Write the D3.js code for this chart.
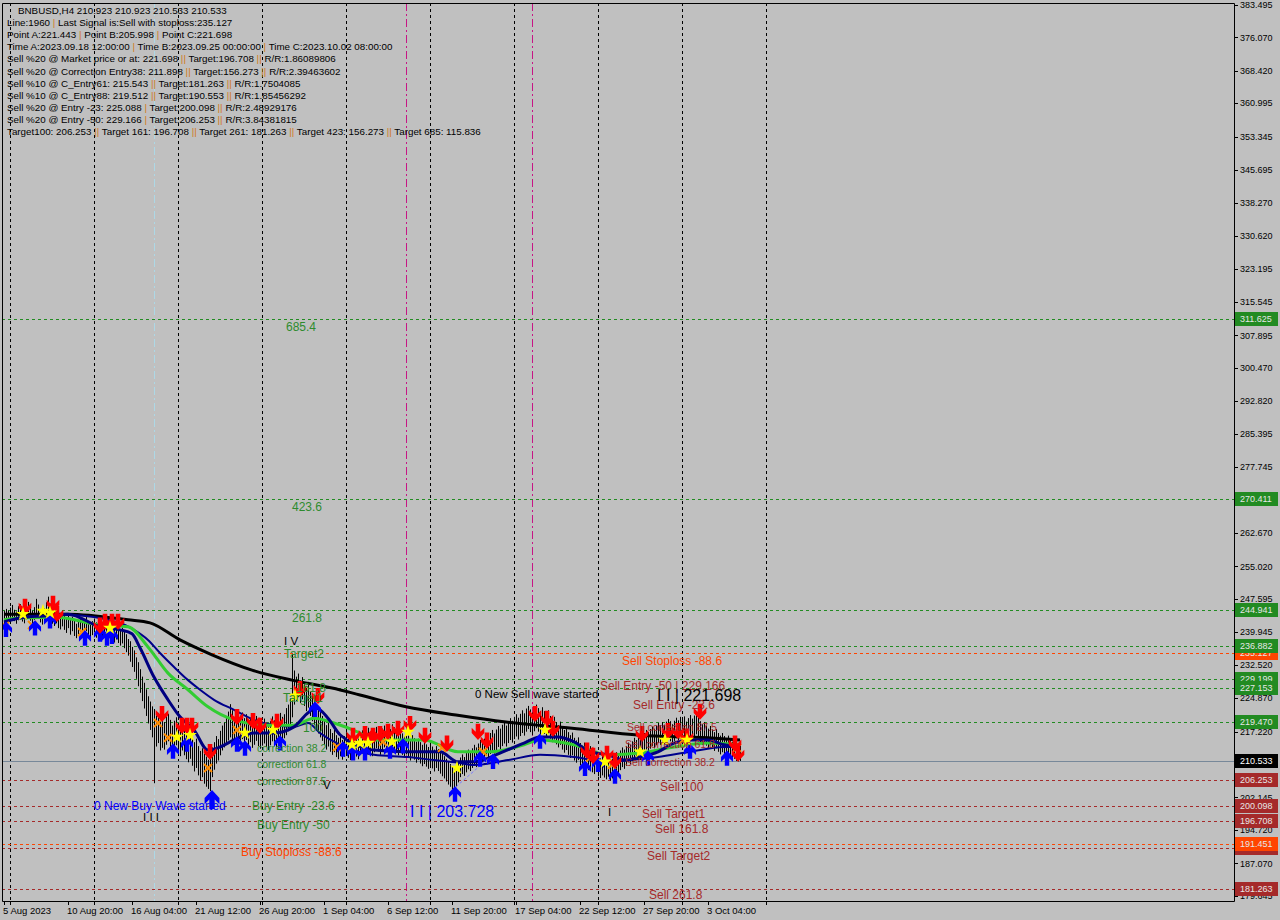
<!DOCTYPE html>
<html><head><meta charset="utf-8">
<script src="https://cdn.jsdelivr.net/npm/d3@7"></script>
<style>body{margin:0;background:#c0c0c0;} svg{display:block;font-family:"Liberation Sans",Arial,sans-serif}</style>
</head><body><svg id="c" width="1280" height="920"></svg>
<script>
// ---------- DATA ----------
const startTime = Date.UTC(2023,7,5,12,0);
const barHours = 4;
const highs = [
244.8,245.3,244.9,245.6,246.2,245.1,244.7,245.9,246.4,245.2,
244.6,245.8,246.9,245.5,244.9,245.7,247.6,246.3,245.1,244.8,
245.4,246.8,248.1,246.5,245.2,244.6,245.3,244.1,243.8,244.5,
243.9,243.2,244.0,242.8,243.5,242.6,241.9,242.7,243.3,242.1,
242.9,243.6,242.4,241.8,242.5,243.1,242.2,241.5,242.3,241.7,
242.6,241.9,241.2,242.0,241.4,240.8,241.6,240.9,240.3,241.0,
240.2,239.5,238.4,237.9,236.6,235.8,234.2,233.1,231.5,229.8,
228.4,226.9,225.3,224.1,223.0,222.4,220.9,221.5,219.8,220.6,
219.4,220.8,221.3,219.9,218.6,219.7,220.5,218.9,217.8,219.2,
218.4,217.1,216.6,217.5,215.9,214.8,215.6,213.9,212.8,213.4,
212.1,211.5,210.8,211.9,213.6,214.8,216.2,215.5,217.4,218.6,
219.3,220.7,221.8,223.5,222.1,220.6,221.4,219.8,220.9,221.6,
220.3,221.2,219.6,220.4,218.9,219.7,220.8,219.3,218.6,219.5,
220.2,219.1,218.4,219.6,220.7,219.8,218.9,220.3,221.5,220.6,
221.2,222.6,223.4,224.8,235.0,231.2,229.8,230.5,228.9,229.7,
228.4,227.2,228.6,226.3,225.1,224.4,223.2,222.5,221.7,220.8,
219.9,218.7,219.3,217.8,216.9,217.6,216.4,215.8,216.5,215.3,
216.2,217.1,216.0,215.4,216.6,217.3,216.1,215.6,216.8,217.5,
216.4,217.2,218.1,217.0,216.3,217.4,218.3,217.6,216.8,217.9,
218.6,217.7,216.9,217.8,218.9,218.2,217.3,216.6,217.5,216.8,
216.2,217.0,216.3,215.5,216.4,215.7,214.9,215.6,214.8,214.2,
214.9,214.3,213.7,214.5,213.8,213.1,213.9,213.2,212.6,212.1,
211.6,211.0,210.4,209.8,209.1,208.7,209.5,210.4,211.3,212.0,
211.4,212.3,213.1,212.6,213.4,214.2,213.6,214.5,215.3,214.7,
215.6,216.4,215.8,216.9,217.6,216.8,217.7,218.5,217.9,218.8,
219.4,218.6,219.5,220.3,219.7,220.6,221.2,220.4,221.3,222.1,
221.4,222.5,223.1,222.3,221.6,222.7,223.4,222.6,221.9,222.8,
221.9,221.2,222.1,220.8,219.9,220.6,219.4,218.7,219.5,218.2,
217.6,218.3,217.1,216.4,217.0,215.8,215.2,215.9,214.6,214.0,
214.7,213.8,213.2,213.9,212.7,212.2,212.8,211.6,211.1,211.8,
211.2,210.6,211.3,210.4,211.0,211.8,212.5,212.0,212.9,213.6,
213.1,213.9,214.7,214.2,215.0,215.8,215.3,216.1,216.8,216.2,
216.9,217.6,217.1,217.8,218.4,217.9,218.6,219.2,218.7,219.4,
218.8,219.5,220.1,219.6,218.9,219.7,220.4,219.8,220.6,219.9,
220.7,219.5,220.3,221.0,220.2,220.9,221.7,220.8,219.6,218.9,
219.4,218.6,217.9,218.5,217.7,217.1,217.8,216.9,216.3,216.9,
216.2,215.7,216.3,215.5,214.9,215.4,214.8,214.3,214.0];
const lows = [
241.6,242.3,242.8,242.1,243.0,242.5,241.9,242.7,243.3,242.4,
242.0,242.9,243.4,242.6,241.8,242.8,243.5,243.0,242.2,241.7,
242.5,243.2,243.9,242.8,241.9,241.4,242.0,240.9,240.6,241.3,
240.5,239.8,240.9,239.4,240.2,239.1,238.6,239.5,240.1,239.0,
239.6,240.2,238.9,238.5,239.3,239.9,238.7,238.2,239.0,238.4,
239.1,238.6,238.0,238.7,238.1,237.6,238.3,237.5,236.9,237.4,
236.3,235.4,234.6,233.2,232.0,230.9,229.3,227.6,226.1,224.2,
222.5,220.8,219.1,217.6,215.9,205.4,213.8,214.6,212.9,213.5,
213.1,214.2,215.0,213.6,212.4,213.3,214.1,212.8,211.6,212.9,
211.8,210.9,210.2,211.0,209.4,208.1,208.9,207.2,206.0,206.8,
205.3,204.6,204.1,203.6,206.8,208.5,209.9,210.6,211.8,212.9,
213.6,214.5,215.2,215.9,214.8,214.2,215.0,214.1,214.7,215.5,
214.6,215.3,214.0,214.8,213.5,214.2,215.1,213.9,213.3,214.0,
214.5,213.7,213.0,214.1,215.0,214.3,213.6,214.7,215.6,215.0,
215.7,216.4,217.3,218.1,220.5,223.4,224.2,225.1,223.8,224.6,
223.1,221.9,222.7,220.8,219.6,218.7,217.5,216.8,215.9,215.1,
214.2,213.1,213.8,212.6,211.9,212.5,211.4,210.9,211.6,210.8,
211.5,212.3,211.2,210.7,211.8,212.6,211.5,210.9,212.1,212.8,
211.7,212.4,213.2,212.1,211.6,212.5,213.4,212.7,211.9,213.0,
213.6,212.8,212.1,212.9,213.8,213.2,212.4,211.8,212.6,211.9,
211.3,212.0,211.4,210.6,211.5,210.8,210.1,210.7,209.9,209.3,
209.8,209.2,208.7,209.4,208.8,208.1,208.9,208.2,207.6,207.0,
206.5,205.8,205.1,204.6,204.0,203.7,204.5,205.6,206.8,207.5,
207.1,207.9,208.6,208.2,208.9,209.7,209.1,209.9,210.6,210.2,
210.9,211.7,211.2,212.1,212.8,212.2,212.9,213.7,213.1,213.9,
214.5,213.8,214.6,215.3,214.7,215.5,216.1,215.4,216.2,216.9,
216.3,217.2,217.8,217.1,216.4,217.3,218.0,217.2,216.6,217.4,
216.7,216.0,216.8,215.6,214.8,215.4,214.3,213.6,214.2,213.1,
212.4,213.0,211.9,211.2,211.8,210.6,210.1,210.7,209.5,209.0,
209.6,208.9,208.4,209.0,207.9,207.5,208.1,207.0,206.6,207.2,
206.7,206.3,206.9,206.0,206.5,207.3,208.0,207.6,208.4,209.1,
208.7,209.4,210.2,209.8,210.5,211.3,210.8,211.6,212.3,211.8,
212.4,213.1,212.6,213.3,213.9,213.4,214.1,214.6,214.2,214.8,
214.3,214.9,215.5,215.0,214.4,215.1,215.7,215.2,215.9,215.3,
215.8,214.9,215.6,216.2,215.5,216.1,216.6,215.7,214.8,214.2,
214.7,214.0,213.5,214.1,213.3,212.8,213.4,212.6,212.0,212.5,
211.8,211.3,211.9,211.1,210.6,211.0,210.5,210.4,210.5];

// moving averages read at sample bars [bar, price]
const maLong = [[0,244.1],[32,244.1],[62,242.8],[73,242.1],[88,238.2],[104,234.8],[124,231.3],[144,229.0],[164,227.2],[178,225.6],[201,222.9],[226,221.0],[251,219.4],[284,218.0],[318,216.4],[352,215.8],[368,215.3]];
const maGreen = [[0,242.8],[8,243.2],[26,243.4],[48,241.6],[62,241.2],[72,236.6],[82,230.6],[92,226.8],[102,222.9],[115,219.9],[132,218.7],[145,218.7],[155,220.3],[165,219.2],[178,216.9],[185,215.3],[210,215.3],[227,212.6],[243,212.6],[260,214.2],[268,215.3],[285,214.2],[302,211.9],[318,212.3],[335,213.7],[352,214.6],[368,214.2]];
const maFast = [[0,242.3],[8,243.2],[20,243.7],[32,244.1],[48,241.2],[58,240.5],[64,239.6],[68,236.4],[75,229.7],[82,224.5],[88,220.6],[95,217.6],[102,213.0],[108,213.7],[115,215.3],[125,216.9],[135,216.9],[145,218.3],[152,221.5],[156,222.6],[162,220.3],[168,216.5],[185,213.0],[202,212.6],[218,212.6],[227,210.3],[235,210.3],[248,212.3],[260,214.6],[268,216.0],[277,216.0],[285,214.9],[293,212.6],[302,211.9],[310,210.7],[318,211.4],[327,212.6],[335,214.6],[343,215.3],[352,215.3],[360,214.2],[368,213.7]];
const maSlow = [[0,242.8],[32,243.9],[58,242.1],[65,240.5],[72,238.2],[78,235.2],[85,232.0],[92,229.0],[98,226.8],[105,224.5],[115,222.2],[125,219.9],[135,218.7],[145,218.3],[152,219.2],[158,216.9],[168,214.2],[185,211.9],[202,211.4],[215,210.7],[227,210.1],[235,209.6],[252,210.7],[268,211.9],[285,211.4],[302,210.3],[313,210.7],[327,211.4],[343,212.6],[360,213.7],[368,213.7]];

// signals [bar, price]
const sellArrows = [[10.5,245.5],[24.5,246.2],[26.5,243.9],[48,241.2],[50.5,242.1],[54,242.1],[57,242.1],[79,221.0],[89,218.3],[91.5,218.3],[94,218.3],[103,212.3],[116.5,220.3],[124.5,219.4],[128,218.3],[136.5,219.2],[148,226.7],[157,225.1],[174.5,216.0],[180.5,216.4],[184.5,216.0],[188,216.4],[192,216.9],[197,217.6],[203,218.7],[210.5,216.0],[221.5,214.2],[237,216.9],[241.5,214.9],[265.5,221.0],[271.5,219.9],[274.5,217.6],[291.5,212.6],[294.5,211.4],[301.5,211.9],[305.5,210.3],[319,216.4],[332,217.1],[337,217.1],[341.5,215.8],[348,221.5],[365.5,214.2],[367,211.9]];
const buyArrows = [[1,240.9],[15.5,241.2],[23,242.8],[40.5,238.9],[48,239.8],[51.5,238.9],[54,239.3],[84.5,213.0],[91.5,214.6],[116.5,214.6],[120.5,213.7],[138,214.9],[155.5,222.6],[169.5,213.5],[174.5,212.6],[180.5,212.6],[193,213.0],[199.5,214.2],[225.5,203.2],[238,211.2],[244.5,210.7],[268,215.3],[290.5,209.1],[297,210.0],[305.5,207.3],[322,211.4],[343,213.0],[361.5,211.4]];
const buyWaveArrow = [[104,202.0]];
const stars = [[9.5,244.1],[19.5,244.8],[23,244.4],[53,240.9],[86.5,216.0],[93,216.4],[120.5,216.9],[134.5,217.6],[145.5,225.4],[174,214.2],[178,214.6],[182,214.6],[194,214.9],[202,217.1],[226.5,208.9],[270.5,217.6],[300.5,210.3],[318,212.6],[330.5,215.3],[341.5,215.3]];
const crosses = [[0.5,241.4],[14,241.6],[39,240.0],[77,219.2],[82,215.8],[102,208.9],[116.5,217.6],[166.5,213.7],[189.5,214.9],[219,213.5],[239.5,212.6],[293,211.2],[304,209.6],[339.5,215.3],[366.5,213.5]];
const zigzag = [[226,204.6],[243,211.4]];

// horizontal levels
const greenLevels = [311.625, 270.411, 244.941, 236.882, 229.199, 227.153, 219.470];
const orangeLevels = [235.127, 191.451];
const brownLevels = [206.253, 200.098, 196.708, 190.553, 181.263];
const bidPrice = 210.533;

// vertical markers (bar index)
const gridBars = [3,45,87,129,171,213,255,297,339,381];
const magentaBars = [201, 264];
const cyanBars = [75];

// axis ticks (those hidden under level boxes are omitted)
const priceTicks = [383.495,376.070,368.420,360.995,353.345,345.695,338.270,330.620,323.195,315.545,307.895,300.470,292.820,285.395,277.745,262.670,255.020,247.595,239.945,232.520,224.870,217.220,202.145,194.720,187.070,179.645];
const timeTickBars = [0,32,64,96,128,160,192,224,256,288,320,352];

// chart labels [text, bar, price]
const greenLabels = [["685.4",141,309.8],["423.6",144,268.6],["261.8",144,243.2],["Target2",140,235.0],["161.8",146,227.2],["Target1",139.5,225.0],["100",149.5,218.0],["Buy Entry -23.6",124,200.2],["Buy Entry -50",126.5,195.9]];
const corrLabels = [["correction 38.2",126.5,213.5],["correction 61.8",126.5,209.8],["correction 87.5",126.5,205.9]];
const brownLabels = [["Sell Entry -50 | 229.166",298,227.7],["Sell Entry -23.6",314.5,223.3],["Sell 100",328,204.5],["Sell Target1",319,198.4],["Sell 161.8",325.5,194.9],["Sell Target2",321.5,188.8],["Sell  261.8",322.5,179.8]];
const brownCorrLabels = [["Sell correction 87.5",311.5,218.3],["Sell correction 61.8",310.5,214.2],["Sell correction 38.2",310.5,210.3]];
const orangeLabels = [["Sell Stoploss -88.6",309,233.4],["Buy Stoploss -88.6",118.5,189.7]];
const blackLabels = [["I V",140,238.0],["V",159.5,205.0],["I I I",69.5,197.6],["I",302,198.8],["0 New Sell wave started",235.5,225.8]];
const blueLabels = [["0 New Buy Wave started",45,200.2]];
const bigBlueLabels = [["I I | 203.728",203,199.05]];
const bigBlackLabels = [["I I | 221.698",326.5,225.6]];

const infoTitle = "BNBUSD,H4  210.923 210.923 210.533 210.533";
const infoLines = [
"Line:1960 | Last Signal is:Sell with stoploss:235.127",
"Point A:221.443 | Point B:205.998 | Point C:221.698",
"Time A:2023.09.18 12:00:00 | Time B:2023.09.25 00:00:00 | Time C:2023.10.02 08:00:00",
"Sell %20 @ Market price or at: 221.698 || Target:196.708 || R/R:1.86089806",
"Sell %20 @ Correction Entry38: 211.898 || Target:156.273 || R/R:2.39463602",
"Sell %10 @ C_Entry61: 215.543 || Target:181.263 || R/R:1.7504085",
"Sell %10 @ C_Entry88: 219.512 || Target:190.553 || R/R:1.85456292",
"Sell %20 @ Entry -23: 225.088 | Target:200.098 || R/R:2.48929176",
"Sell %20 @ Entry -50: 229.166 | Target:206.253 || R/R:3.84381815",
"Target100: 206.253 || Target 161: 196.708 || Target 261: 181.263 || Target 423: 156.273 || Target 685: 115.836"
];

// ---------- DRAW ----------
const svg = d3.select("#c");
const W = 1280, H = 920;
const plotL = 2, plotR = 1234, plotT = 3, plotB = 901;
const barDate = i => new Date(startTime + i*barHours*3600e3);
const x = d3.scaleUtc().domain([barDate(0), barDate(600)]).range([4, 1204]);
const y = d3.scaleLinear().domain([179.645, 383.495]).range([895.8, 5]);
const X = i => x(barDate(i));

svg.append("rect").attr("width",W).attr("height",H).attr("fill","#c0c0c0");
const g = svg.append("g");
g.append("clipPath").attr("id","clip").append("rect").attr("x",plotL).attr("y",plotT).attr("width",plotR-plotL).attr("height",plotB-plotT);
const p = g.append("g").attr("clip-path","url(#clip)");

// vertical grid
p.selectAll(".vg").data(gridBars).join("line").attr("x1",d=>Math.round(X(d))+0.5).attr("x2",d=>Math.round(X(d))+0.5)
 .attr("y1",plotT).attr("y2",plotB).attr("stroke","#000").attr("stroke-dasharray","3,3");
p.selectAll(".vm").data(magentaBars).join("line").attr("x1",d=>Math.round(X(d))+0.5).attr("x2",d=>Math.round(X(d))+0.5)
 .attr("y1",plotT).attr("y2",plotB).attr("stroke","#c71585").attr("stroke-dasharray","8,3,2,3");
p.selectAll(".vc").data(cyanBars).join("line").attr("x1",d=>Math.round(X(d))+0.5).attr("x2",d=>Math.round(X(d))+0.5)
 .attr("y1",plotT).attr("y2",plotB).attr("stroke","#add8e6").attr("stroke-dasharray","8,3,2,3");

// horizontal levels
function hLevels(arr, col){
  p.append("g").selectAll("line").data(arr).join("line")
   .attr("x1",plotL).attr("x2",plotR).attr("y1",d=>Math.round(y(d))+0.5).attr("y2",d=>Math.round(y(d))+0.5)
   .attr("stroke",col).attr("stroke-dasharray","3,3");
}
hLevels(greenLevels,"#228b22");
hLevels(brownLevels,"#a52a2a");
hLevels(orangeLevels,"#ff4500");
p.append("line").attr("x1",plotL).attr("x2",plotR).attr("y1",Math.round(y(bidPrice))+0.5).attr("y2",Math.round(y(bidPrice))+0.5).attr("stroke","#778899");

// candles (high-low bars)
const bars = d3.range(highs.length);
p.append("g").selectAll("line").data(bars).join("line")
 .attr("x1",i=>Math.round(X(i))+0.5).attr("x2",i=>Math.round(X(i))+0.5)
 .attr("y1",i=>y(highs[i])).attr("y2",i=>y(lows[i])).attr("stroke","#000").attr("stroke-width",1);

// MAs
const line = d3.line().x(d=>X(d[0])).y(d=>y(d[1])).curve(d3.curveMonotoneX);
p.append("path").attr("d",line(maLong)).attr("fill","none").attr("stroke","#000").attr("stroke-width",3);
p.append("path").attr("d",line(maSlow)).attr("fill","none").attr("stroke","#00008b").attr("stroke-width",2);
p.append("path").attr("d",line(maGreen)).attr("fill","none").attr("stroke","#32cd32").attr("stroke-width",3);
p.append("path").attr("d",line(maFast)).attr("fill","none").attr("stroke","#000080").attr("stroke-width",3);
p.append("path").attr("d",line(zigzag)).attr("fill","none").attr("stroke","#7b7bff").attr("stroke-dasharray","3,2");

// markers
const arrowPath = "M-2,-8 L2,-8 L2,-1 L5.5,-4.5 L5.5,0 L0,6 L-5.5,0 L-5.5,-4.5 L-2,-1 Z";
p.append("g").selectAll("path").data(crosses).join("path")
 .attr("transform",d=>`translate(${X(d[0])},${y(d[1])})`).attr("d","M-4,-4L4,4M-4,4L4,-4").attr("stroke","#ff8c00").attr("stroke-width",2);
p.append("g").selectAll("path").data(buyArrows).join("path")
 .attr("transform",d=>`translate(${X(d[0])},${y(d[1])}) scale(1.1,-1.1)`).attr("d",arrowPath).attr("fill","#0000ff");
p.append("g").selectAll("path").data(buyWaveArrow).join("path")
 .attr("transform",d=>`translate(${X(d[0])},${y(d[1])}) scale(1.35,-1.35)`).attr("d",arrowPath).attr("fill","#0000ff");
p.append("g").selectAll("path").data(sellArrows).join("path")
 .attr("transform",d=>`translate(${X(d[0])},${y(d[1])}) scale(1.15)`).attr("d",arrowPath).attr("fill","#ff0000");
const star = d3.symbol(d3.symbolStar, 60)();
p.append("g").selectAll("path").data(stars).join("path")
 .attr("transform",d=>`translate(${X(d[0])},${y(d[1])})`).attr("d",star).attr("fill","#ffff00");

// chart labels
function labels(arr, col, size){
  p.append("g").selectAll("text").data(arr).join("text")
   .attr("x",d=>X(d[1])).attr("y",d=>y(d[2])).attr("dy","0.35em")
   .attr("fill",col).attr("font-size",size).text(d=>d[0]);
}
labels(greenLabels,"#2e8b2e",12);
labels(corrLabels,"#2e8b2e",10.5);
labels(brownLabels,"#a52a2a",12);
labels(brownCorrLabels,"#a52a2a",10.5);
labels(orangeLabels,"#ff4500",12);
labels(blackLabels,"#000",11.5);
labels(blueLabels,"#0000ff",12);
labels(bigBlueLabels,"#0000ff",16);
labels(bigBlackLabels,"#000",16);

// info text
const info = p.append("g").attr("font-size",9.8).attr("fill","#000");
info.append("text").attr("x",18).attr("y",13.5).text(infoTitle);
infoLines.forEach((ln,k)=>{
  const t = info.append("text").attr("x",7).attr("y",26 + k*12.15);
  ln.split(/(\|+)/).forEach(seg=>{
    t.append("tspan").attr("fill", /^\|+$/.test(seg) ? "#d2781e" : "#000").text(seg);
  });
});

// frame
svg.append("path").attr("d",`M${plotL+0.5},${plotB+0.5}V${plotT+0.5}H${plotR+0.5}V${plotB+0.5}H${plotL+0.5}`).attr("fill","none").attr("stroke","#000");

// price axis
const ax = svg.append("g").attr("font-size",9);
ax.selectAll("line").data(priceTicks).join("line").attr("x1",plotR).attr("x2",plotR+4)
 .attr("y1",d=>Math.round(y(d))+0.5).attr("y2",d=>Math.round(y(d))+0.5).attr("stroke","#000");
ax.selectAll("text").data(priceTicks).join("text").attr("x",plotR+6).attr("y",d=>y(d)).attr("dy","0.35em")
 .attr("fill","#000").text(d=>d3.format(".3f")(d));

function boxes(arr, fill, txt){
  const b = svg.append("g").selectAll("g").data(arr).join("g").attr("transform",d=>`translate(${plotR+1},${Math.round(y(d))})`);
  b.append("rect").attr("x",0).attr("y",-7).attr("width",43).attr("height",14).attr("fill",fill);
  b.append("text").attr("x",5).attr("y",0).attr("dy","0.35em").attr("font-size",9).attr("fill",txt).text(d=>d3.format(".3f")(d));
}
boxes(brownLevels,"#a52a2a","#e6e6e6");
boxes(orangeLevels,"#ff4500","#e6e6e6");
boxes(greenLevels,"#228b22","#e6e6e6");
boxes([bidPrice],"#000","#fff");

// time axis
const tx = svg.append("g").attr("font-size",9.5);
const fmtFirst = d3.utcFormat("%-d %b %Y"), fmt = d3.utcFormat("%-d %b %H:%M");
tx.selectAll("text").data(timeTickBars).join("text").attr("x",d=>X(d)-1).attr("y",914)
 .attr("fill","#000").text((d,k)=> k===0 ? fmtFirst(barDate(d)) : fmt(barDate(d)));
tx.selectAll(".t1").data(timeTickBars).join("line").attr("x1",d=>Math.round(X(d))+0.5).attr("x2",d=>Math.round(X(d))+0.5)
 .attr("y1",plotB).attr("y2",plotB+4).attr("stroke","#000");
tx.selectAll(".t2").data(gridBars).join("line").attr("x1",d=>Math.round(X(d))+0.5).attr("x2",d=>Math.round(X(d))+0.5)
 .attr("y1",plotB).attr("y2",plotB+4).attr("stroke","#000");
</script></body></html>
